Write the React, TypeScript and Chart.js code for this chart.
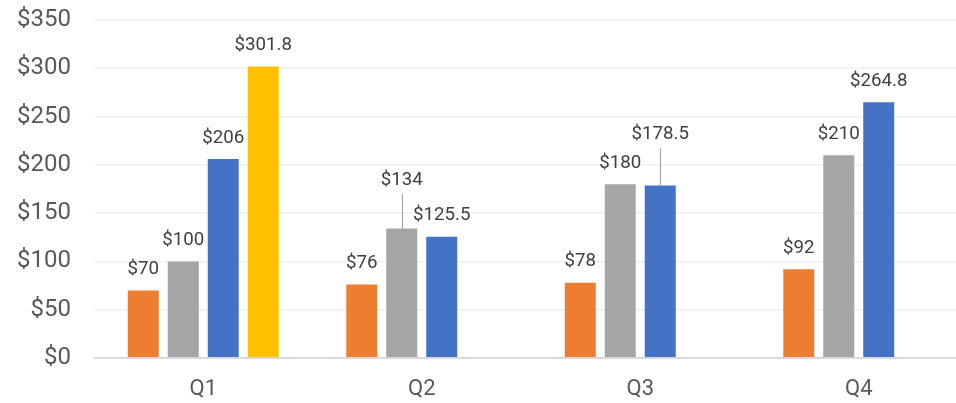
import React, { useEffect, useRef } from "react";
import { Chart, registerables } from "chart.js";

Chart.register(...registerables);

const categories = ["Q1", "Q2", "Q3", "Q4"];
const seriesOrange = [70, 76, 78, 92];
const seriesGray = [100, 134, 180, 210];
const seriesBlue = [206, 125.5, 178.5, 264.8];
const seriesYellow = [301.8, null, null, null];
const yTicks = [0, 50, 100, 150, 200, 250, 300, 350];

// extra upward lift (px) for labels that use a leader line: [datasetIndex, index, lift]
const leaderLabels: [number, number, number][] = [
  [1, 1, 27],
  [2, 2, 30],
];

const fmt = (v: number) => "$" + String(v);

const labelPlugin = {
  id: "barLabels",
  afterDatasetsDraw(chart: any) {
    const ctx = chart.ctx;
    ctx.save();
    ctx.font = "18.7px Roboto";
    ctx.fillStyle = "#404040";
    ctx.textAlign = "center";
    ctx.textBaseline = "alphabetic";
    chart.data.datasets.forEach((ds: any, di: number) => {
      const meta = chart.getDatasetMeta(di);
      meta.data.forEach((bar: any, i: number) => {
        const v = ds.data[i];
        if (v === null || v === undefined) return;
        const found = leaderLabels.find((l) => l[0] === di && l[1] === i);
        const lift = found ? found[2] : 0;
        const baseY = bar.y - 16.5 - lift;
        ctx.fillText(fmt(v), bar.x, baseY);
        if (lift) {
          ctx.save();
          ctx.strokeStyle = "#A6A6A6";
          ctx.lineWidth = 1.2;
          ctx.beginPath();
          ctx.moveTo(Math.round(bar.x) + 0.5, baseY + 9);
          ctx.lineTo(Math.round(bar.x) + 0.5, bar.y);
          ctx.stroke();
          ctx.restore();
        }
      });
    });
    ctx.restore();
  },
};

export default function App() {
  const ref = useRef<HTMLCanvasElement>(null);
  useEffect(() => {
    document.body.style.margin = "0";
    document.body.style.overflow = "hidden";
    const chart = new Chart(ref.current as HTMLCanvasElement, {
      type: "bar",
      data: {
        labels: categories,
        datasets: [
          { data: seriesOrange, backgroundColor: "#ED7D31" },
          { data: seriesGray, backgroundColor: "#A5A5A5" },
          { data: seriesBlue, backgroundColor: "#4472C4" },
          { data: seriesYellow as any, backgroundColor: "#FFC000" },
        ],
      },
      options: {
        responsive: false,
        animation: false,
        devicePixelRatio: 1,
        layout: { padding: { top: 20, left: 0, right: 0, bottom: 0 } },
        datasets: { bar: { categoryPercentage: 0.732, barPercentage: 0.775 } },
        plugins: { legend: { display: false }, tooltip: { enabled: false } },
        scales: {
          x: {
            grid: { display: false, drawTicks: false },
            border: { display: false },
            ticks: { color: "#595959", font: { family: "Roboto", size: 22 }, padding: 18 },
            afterFit: (s: any) => {
              s.height = 45;
              s.paddingLeft = 0;
              s.paddingRight = 0;
            },
          },
          y: {
            min: 0,
            max: 350,
            afterBuildTicks: (s: any) => {
              s.ticks = yTicks.map((v) => ({ value: v }));
            },
            grid: {
              drawTicks: false,
              color: (c: any) => (c.tick && c.tick.value === 0 ? "#D9D9D9" : "#EFEFEF"),
              lineWidth: (c: any) => (c.tick && c.tick.value === 0 ? 2 : 1.6),
            },
            border: { display: false },
            ticks: {
              color: "#595959",
              font: { family: "Roboto", size: 24 },
              padding: 23,
              callback: (v: any) => "$" + v,
            },
            afterFit: (s: any) => {
              s.width = 94;
              s.paddingTop = 0;
              s.paddingBottom = 0;
            },
          },
        },
      },
      plugins: [labelPlugin],
    });
    return () => chart.destroy();
  }, []);
  return (
    <div style={{ position: "fixed", left: 0, top: 0, width: 956, height: 403, overflow: "hidden", background: "#fff" }}>
      <canvas ref={ref} width={968} height={403} style={{ display: "block", width: 968, height: 403 }} />
    </div>
  );
}
